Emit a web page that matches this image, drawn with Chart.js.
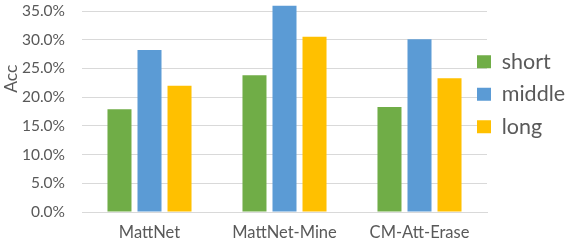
<!DOCTYPE html>
<html lang="en">
<head>
  <meta charset="UTF-8">
  <title>Acc by method</title>
  <script src="https://cdn.jsdelivr.net/npm/chart.js"></script>
  <style>
    html, body { margin: 0; padding: 0; background: #fff; }
    #wrap { width: 565px; height: 241px; }
  </style>
</head>
<body>
  <div id="wrap"><canvas id="accChart"></canvas></div>
  <script>
    const methods = ['MattNet', 'MattNet-Mine', 'CM-Att-Erase'];
    const shortAcc = [17.9, 23.8, 18.3];
    const middleAcc = [28.2, 35.9, 30.1];
    const longAcc = [22.0, 30.5, 23.3];

    const textColor = '#595959';
    const gridColor = '#D9D9D9';
    Chart.defaults.font.family = 'Lato, "Open Sans", sans-serif';
    Chart.defaults.color = textColor;

    // legend sits partly over the plot's right edge, like the Excel original
    const legendSpace = 78;
    const legendTweak = {
      id: 'legendTweak',
      beforeLayout(chart) {
        const lg = chart.legend;
        if (lg && !lg._tweaked) {
          const fit = lg.fit;
          lg.fit = function () { fit.call(this); this.width = legendSpace; };
          lg._tweaked = true;
        }
      },
      afterLayout(chart) {
        const lg = chart.legend;
        if (!lg) return;
        const pad = lg.options.labels.padding;
        lg.left = chart.chartArea.right - 10 - pad;
        lg.top = 40;
      }
    };

    new Chart(document.getElementById('accChart'), {
      type: 'bar',
      data: {
        labels: methods,
        datasets: [
          { label: 'short', data: shortAcc, backgroundColor: '#70AD47', clip: false },
          { label: 'middle', data: middleAcc, backgroundColor: '#5B9BD5', clip: false },
          { label: 'long', data: longAcc, backgroundColor: '#FFC000', clip: false }
        ]
      },
      options: {
        responsive: true,
        maintainAspectRatio: false,
        animation: false,
        categoryPercentage: 0.667,
        barPercentage: 0.8,
        layout: { padding: 0 },
        plugins: {
          legend: {
            position: 'right',
            align: 'start',
            labels: {
              boxWidth: 14,
              boxHeight: 13,
              padding: 11,
              font: { size: 21.5 }
            }
          },
          tooltip: { enabled: false }
        },
        scales: {
          x: {
            grid: { display: false },
            border: { color: gridColor },
            ticks: { font: { size: 16.5 }, padding: 3 },
            afterFit: s => { s.height = 29; }
          },
          y: {
            min: 0,
            max: 35,
            ticks: {
              stepSize: 5,
              padding: 3,
              font: { size: 15.5 },
              callback: v => v.toFixed(1) + '%'
            },
            grid: { color: gridColor, tickLength: 14, tickColor: 'rgba(0,0,0,0)' },
            border: { display: false },
            // leading spaces lift the title above the axis centre, as in the original
            title: { display: true, text: '\u2003\u2003\u2003\u2003\u2003Acc', font: { size: 17.5 }, padding: { top: 1, bottom: 0 } },
            afterFit: s => { s.width = 82; s.paddingTop = 11; }
          }
        }
      },
      plugins: [legendTweak]
    });
  </script>
</body>
</html>
